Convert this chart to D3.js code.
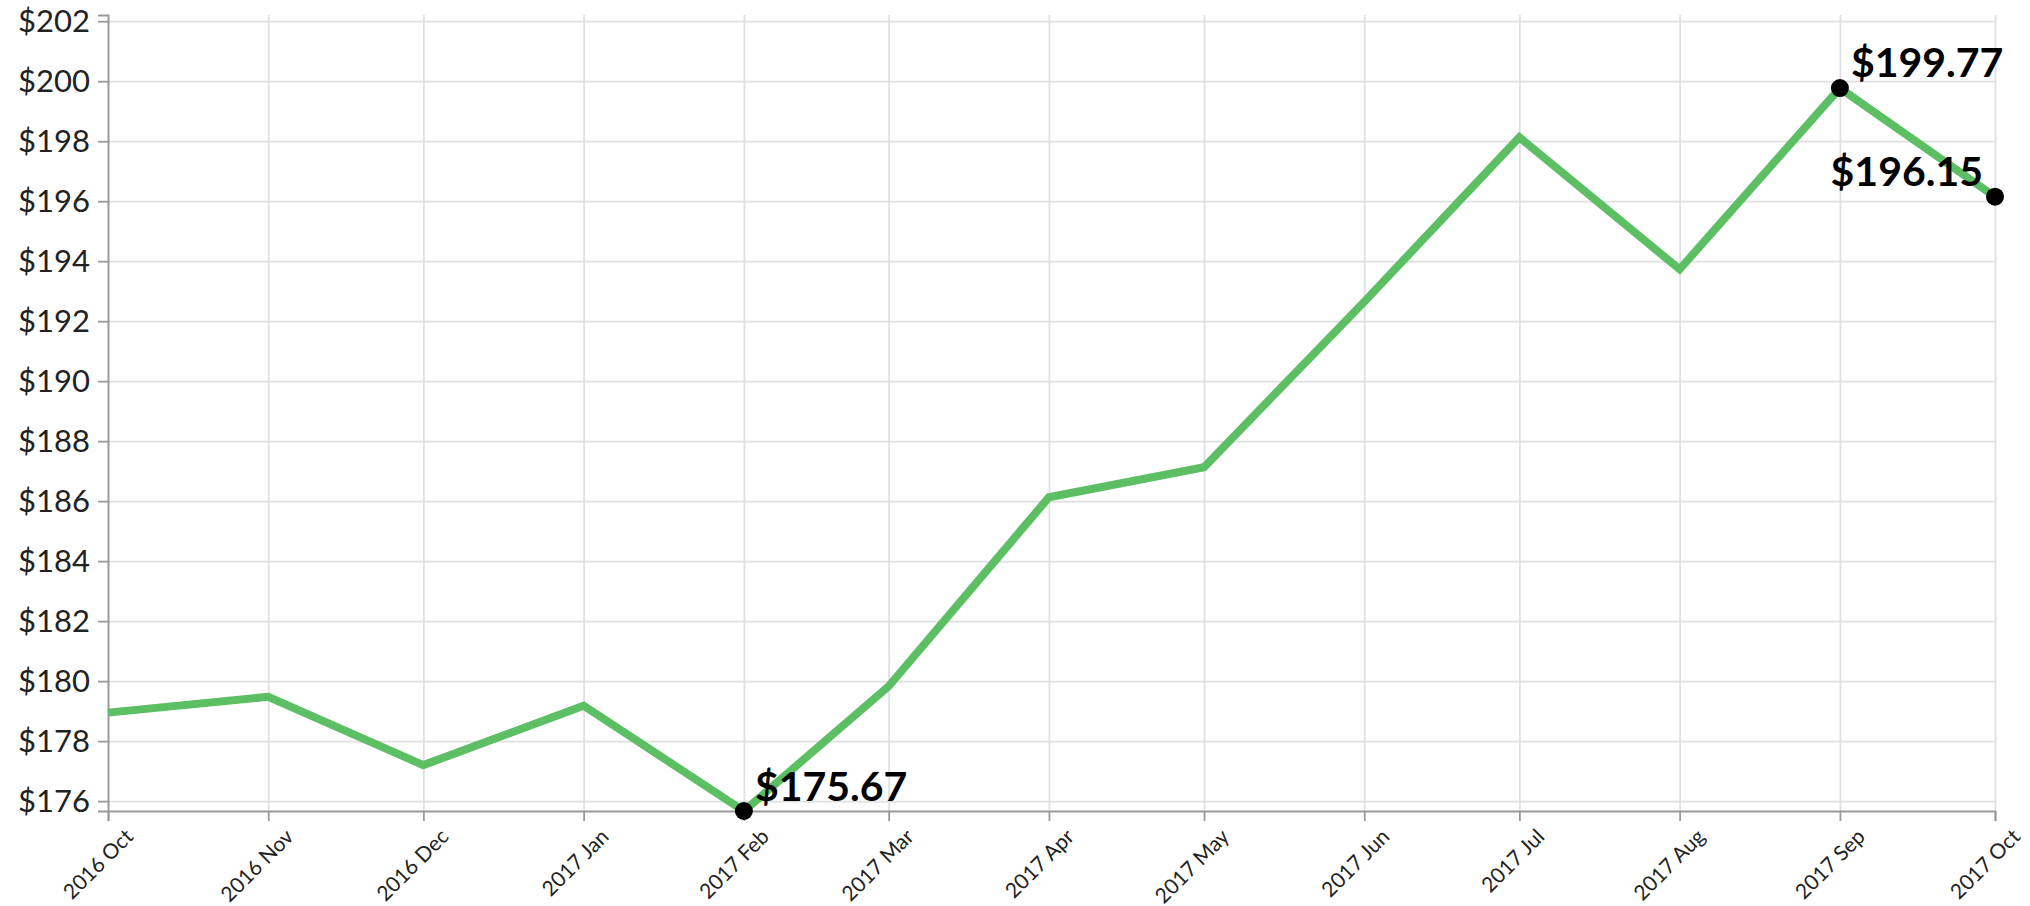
<!DOCTYPE html>
<html>
<head>
<meta charset="utf-8">
<script src="https://cdn.jsdelivr.net/npm/d3@7"></script>
<style>
  body { margin: 0; background: #fff; }
  svg { display: block; }
  svg text { font-family: Lato, "Open Sans", sans-serif; }
  .grid line { stroke: #dfe0e1; stroke-width: 1.8; }
  .grid path { display: none; }
  .axis path, .axis line { stroke: #999; stroke-width: 1.8; }
  .axis text { fill: #222; }
</style>
</head>
<body>
<div id="chart"></div>
<script>
var width = 2030;
var height = 906;
var margin = {top: 15, right: 35, bottom: 95, left: 108};

// monthly closing prices
var months = ['2016-10', '2016-11', '2016-12', '2017-01', '2017-02', '2017-03', '2017-04',
    '2017-05', '2017-06', '2017-07', '2017-08', '2017-09', '2017-10'];
var prices = [178.95, 179.48, 177.2, 179.18, 175.67, 179.83, 186.13,
    187.13, 192.65, 198.13, 193.73, 199.77, 196.15];
var yTicks = [176, 178, 180, 182, 184, 186, 188, 190, 192, 194, 196, 198, 200, 202];

var parseMonth = d3.timeParse('%Y-%m');
var data = months.map(function (m, i) {
    return {date: parseMonth(m), value: prices[i]};
});

var innerW = width - margin.left - margin.right;
var innerH = height - margin.top - margin.bottom;

var x = d3.scaleTime()
    .domain(d3.extent(data, function (d) { return d.date; }))
    .range([0, innerW]);

var y = d3.scaleLinear()
    .domain([d3.min(prices), d3.max(prices) * 1.0122])
    .range([innerH, 0]);

var svg = d3.select('#chart').append('svg')
    .attr('width', width)
    .attr('height', height)
    .append('g')
    .attr('transform', 'translate(' + margin.left + ',' + margin.top + ')');

// gridlines
svg.append('g')
    .attr('class', 'grid')
    .call(d3.axisLeft(y).tickValues(yTicks).tickSize(-innerW).tickFormat(''));

svg.append('g')
    .attr('class', 'grid')
    .attr('transform', 'translate(0,' + innerH + ')')
    .call(d3.axisBottom(x).ticks(d3.timeMonth.every(1)).tickSize(-innerH).tickFormat(''));

// axes
var yAxis = svg.append('g')
    .attr('class', 'axis')
    .call(d3.axisLeft(y).tickValues(yTicks).tickSize(10).tickPadding(8)
        .tickFormat(function (d) { return '$' + d; }));
yAxis.selectAll('text').style('font-size', '31px');

var xAxis = svg.append('g')
    .attr('class', 'axis')
    .attr('transform', 'translate(0,' + innerH + ')')
    .call(d3.axisBottom(x).ticks(d3.timeMonth.every(1)).tickSize(10)
        .tickFormat(d3.timeFormat('%Y %b')));
xAxis.selectAll('text')
    .style('font-size', '21px')
    .style('text-anchor', 'end')
    .attr('dy', null)
    .attr('y', 0)
    .attr('transform', 'translate(26,27) rotate(-45)');

// price line
var line = d3.line()
    .x(function (d) { return x(d.date); })
    .y(function (d) { return y(d.value); });

svg.append('path')
    .datum(data)
    .attr('fill', 'none')
    .attr('stroke', '#5cbf63')
    .attr('stroke-width', 8)
    .attr('stroke-linejoin', 'miter')
    .attr('d', line);

// highlighted points: min, max, last
var minPt = data[d3.minIndex(prices)];
var maxPt = data[d3.maxIndex(prices)];
var lastPt = data[data.length - 1];
var marks = [
    {p: minPt, dx: 11, dy: -10, anchor: 'start'},
    {p: maxPt, dx: 11, dy: -11, anchor: 'start'},
    {p: lastPt, dx: -12, dy: -11, anchor: 'end'}
];

var mark = svg.selectAll('g.mark')
    .data(marks)
    .enter().append('g')
    .attr('class', 'mark')
    .attr('transform', function (d) {
        return 'translate(' + x(d.p.date) + ',' + y(d.p.value) + ')';
    });

mark.append('circle')
    .attr('r', 9)
    .attr('fill', '#000');

mark.append('text')
    .attr('x', function (d) { return d.dx; })
    .attr('y', function (d) { return d.dy; })
    .attr('text-anchor', function (d) { return d.anchor; })
    .style('font-size', '41px')
    .style('font-weight', 'bold')
    .attr('fill', '#000')
    .text(function (d) { return '$' + d.p.value.toFixed(2); });
</script>
</body>
</html>
